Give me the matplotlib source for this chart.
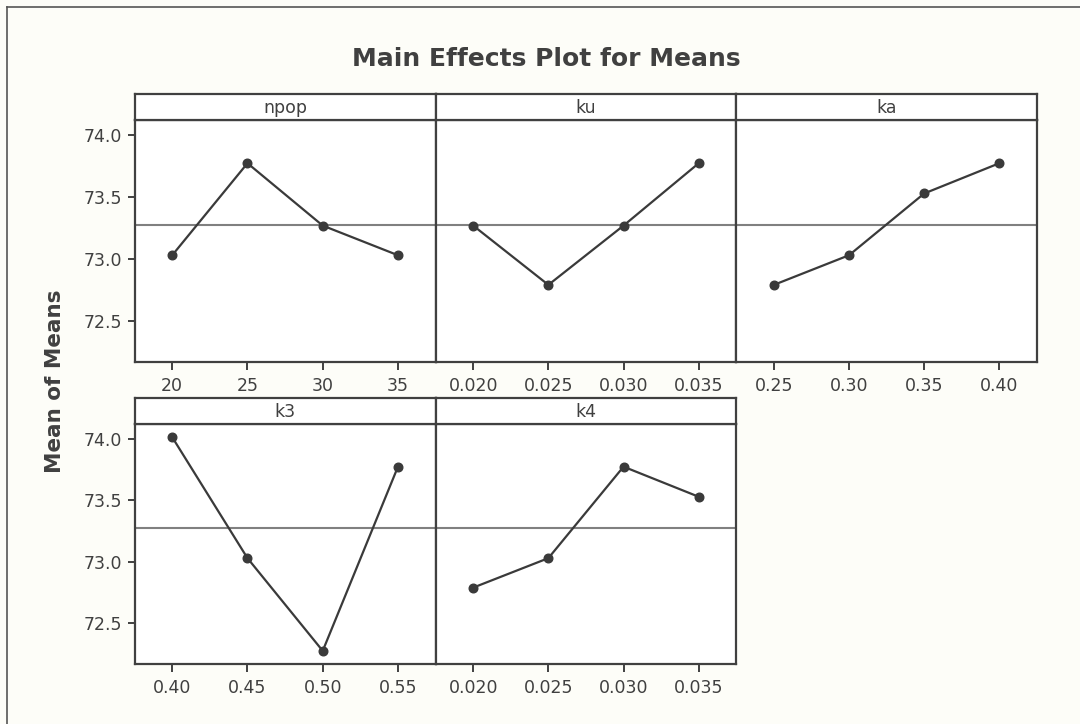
import matplotlib
matplotlib.use("Agg")
import matplotlib.pyplot as plt
from matplotlib.lines import Line2D

# ---------------- data ----------------
factors = ["npop", "ku", "ka", "k3", "k4"]
npop_levels = [20, 25, 30, 35]
npop_means = [73.03, 73.775, 73.27, 73.03]
npop_labels = ["20", "25", "30", "35"]
ku_levels = [0.020, 0.025, 0.030, 0.035]
ku_means = [73.27, 72.79, 73.27, 73.775]
ku_labels = ["0.020", "0.025", "0.030", "0.035"]
ka_levels = [0.25, 0.30, 0.35, 0.40]
ka_means = [72.79, 73.03, 73.53, 73.775]
ka_labels = ["0.25", "0.30", "0.35", "0.40"]
k3_levels = [0.40, 0.45, 0.50, 0.55]
k3_means = [74.015, 73.03, 72.275, 73.775]
k3_labels = ["0.40", "0.45", "0.50", "0.55"]
k4_levels = [0.020, 0.025, 0.030, 0.035]
k4_means = [72.79, 73.03, 73.775, 73.53]
k4_labels = ["0.020", "0.025", "0.030", "0.035"]
grand_mean = 73.272
y_ticks = [72.5, 73.0, 73.5, 74.0]
y_tick_labels = ["72.5", "73.0", "73.5", "74.0"]

# ---------------- style ----------------
W, H = 1080, 724
DPI = 100
BG = "#fdfdf8"
DARK = "#404040"
LINEC = "#3a3a3a"
MEANC = "#808080"
FONT = ["Liberation Sans Narrow", "DejaVu Sans Condensed", "DejaVu Sans"]
plt.rcParams["font.family"] = FONT

fig = plt.figure(figsize=(W / DPI, H / DPI), dpi=DPI, facecolor=BG)


def frac_rect(x0, y0, x1, y1):
    # pixel coords (top-left origin) -> figure fraction rect
    return [x0 / W, 1 - y1 / H, (x1 - x0) / W, (y1 - y0) / H]


col_edges = [134.6, 435.6, 736.3, 1036.9]
rows = [  # (strip_top, strip_bottom/plot_top, plot_bottom)
    (94.0, 120.0, 361.7),
    (397.7, 423.7, 664.0),
]
panels = [
    ("npop", npop_levels, npop_means, npop_labels, 0, 0),
    ("ku", ku_levels, ku_means, ku_labels, 0, 1),
    ("ka", ka_levels, ka_means, ka_labels, 0, 2),
    ("k3", k3_levels, k3_means, k3_labels, 1, 0),
    ("k4", k4_levels, k4_means, k4_labels, 1, 1),
]

TICKFS = 12.5
for name, lv, mv, lab, r, c in panels:
    x0, x1 = col_edges[c], col_edges[c + 1]
    st, pt, pb = rows[r]
    ax = fig.add_axes(frac_rect(x0, pt, x1, pb))
    ax.set_facecolor("white")
    step = lv[1] - lv[0]
    ax.set_xlim(lv[0] - step / 2, lv[-1] + step / 2)
    ax.set_ylim(72.168, 74.125)
    ax.axhline(grand_mean, color=MEANC, lw=1.5, zorder=1)
    ax.plot(lv, mv, color=LINEC, lw=1.6, marker="o", ms=6.2,
            mfc=LINEC, mec=LINEC, zorder=3)
    ax.set_xticks(lv)
    ax.set_xticklabels(lab)
    ax.tick_params(axis="x", direction="out", length=5.5, width=1.4,
                   color=DARK, labelcolor=DARK, labelsize=TICKFS, pad=5.5)
    if c == 0:
        ax.set_yticks(y_ticks)
        ax.set_yticklabels(y_tick_labels)
        ax.tick_params(axis="y", direction="out", length=5, width=1.4,
                       color=DARK, labelcolor=DARK, labelsize=TICKFS, pad=4)
    else:
        ax.set_yticks([])
    for s in ax.spines.values():
        s.set_color(DARK)
        s.set_linewidth(1.6)

    sax = fig.add_axes(frac_rect(x0, st, x1, pt))
    sax.set_facecolor("white")
    sax.set_xticks([])
    sax.set_yticks([])
    for s in sax.spines.values():
        s.set_color(DARK)
        s.set_linewidth(1.6)
    sax.text(0.5, 0.45, name, ha="center", va="center", color=DARK,
             fontsize=TICKFS, transform=sax.transAxes)

fig.text(546 / W, 1 - 59 / H, "Main Effects Plot for Means", ha="center",
         va="center", fontsize=18, fontweight="bold", color=DARK)
fig.text(55 / W, 1 - 381 / H, "Mean of Means", ha="center", va="center",
         rotation=90, fontsize=15.5, fontweight="bold", color=DARK)

# outer frame (top and left edges visible)
fig.add_artist(Line2D([7 / W, 7 / W], [0, 1 - 7 / H], transform=fig.transFigure,
                      color="#555555", lw=1.2))
fig.add_artist(Line2D([7 / W, 1], [1 - 7 / H, 1 - 7 / H], transform=fig.transFigure,
                      color="#555555", lw=1.2))

fig.savefig("out.png", dpi=DPI, facecolor=BG)
